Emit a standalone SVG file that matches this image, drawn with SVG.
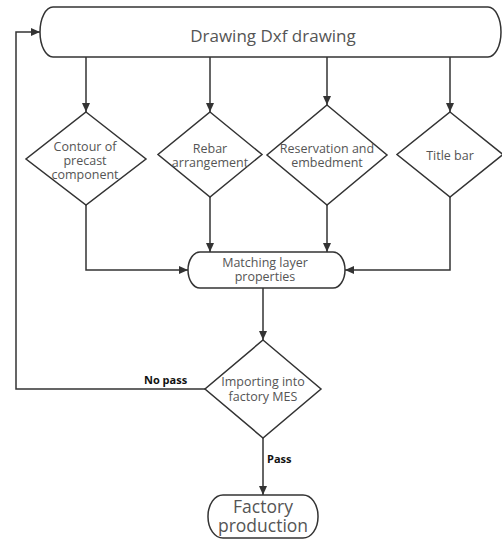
<svg xmlns="http://www.w3.org/2000/svg" width="502" height="540" viewBox="0 0 502 540">
<defs>
<marker id="arr" markerUnits="userSpaceOnUse" markerWidth="10" markerHeight="10" refX="9" refY="5" orient="auto">
<path d="M0,1 L9,5 L0,9 Z" fill="#333"/>
</marker>
<style>
.shape{fill:#fff;stroke:#333;stroke-width:1.5}
.conn{fill:none;stroke:#333;stroke-width:1.5;marker-end:url(#arr)}
.t{font-family:"Open Sans","Noto Sans",sans-serif;fill:#555;text-anchor:middle}
.s{font-size:12.5px}
.b{font-size:17px}
.f{font-size:17.5px}
.lbl{font-family:"Open Sans","Noto Sans",sans-serif;font-weight:bold;font-size:11px;fill:#111}
</style>
</defs>
<rect width="502" height="540" fill="#fff"/>
<g id="connectors">
<path class="conn" d="M86,57 V112"/>
<path class="conn" d="M210,57 V112"/>
<path class="conn" d="M327,57 V105"/>
<path class="conn" d="M450,57 V112"/>
<path class="conn" d="M86,205 V270 H188"/>
<path class="conn" d="M210,197 V252"/>
<path class="conn" d="M327,205 V252"/>
<path class="conn" d="M450,197 V270 H345"/>
<path class="conn" d="M263,288 V340"/>
<path class="conn" d="M205,389 H16 V32 H40"/>
<path class="conn" d="M263,438 V495"/>
<text class="lbl" x="144" y="384">No pass</text>
<text class="lbl" x="267" y="463">Pass</text>
</g>
<g id="n-drawing">
<rect class="shape" x="40" y="7" width="461" height="50" rx="13" ry="25"/>
<text class="t b" x="273" y="42">Drawing Dxf drawing</text>
</g>
<g id="n-contour">
<polygon class="shape" points="86,112 146,159 86,205 26,159"/>
<text class="t s" x="85" y="151">Contour of</text>
<text class="t s" x="85" y="165">precast</text>
<text class="t s" x="85" y="179">component</text>
</g>
<g id="n-rebar">
<polygon class="shape" points="210,112 262,154.5 210,197 158,154.5"/>
<text class="t s" x="210" y="153">Rebar</text>
<text class="t s" x="210" y="167">arrangement</text>
</g>
<g id="n-reservation">
<polygon class="shape" points="327,105 387,155 327,205 267,155"/>
<text class="t s" x="327" y="152.5">Reservation and</text>
<text class="t s" x="327" y="166.5">embedment</text>
</g>
<g id="n-title">
<polygon class="shape" points="450,112 503,154.5 450,197 397,154.5"/>
<text class="t s" x="450" y="160">Title bar</text>
</g>
<g id="n-matching">
<rect class="shape" x="188" y="252" width="157" height="36" rx="12" ry="18"/>
<text class="t s" x="265" y="267">Matching layer</text>
<text class="t s" x="265" y="281">properties</text>
</g>
<g id="n-import">
<polygon class="shape" points="263,340 321,389 263,438 205,389"/>
<text class="t s" x="263" y="386">Importing into</text>
<text class="t s" x="263" y="401">factory MES</text>
</g>
<g id="n-factory">
<rect class="shape" x="208" y="495" width="110" height="43" rx="15" ry="21"/>
<text class="t f" x="263" y="513">Factory</text>
<text class="t f" x="263" y="532">production</text>
</g>
</svg>
